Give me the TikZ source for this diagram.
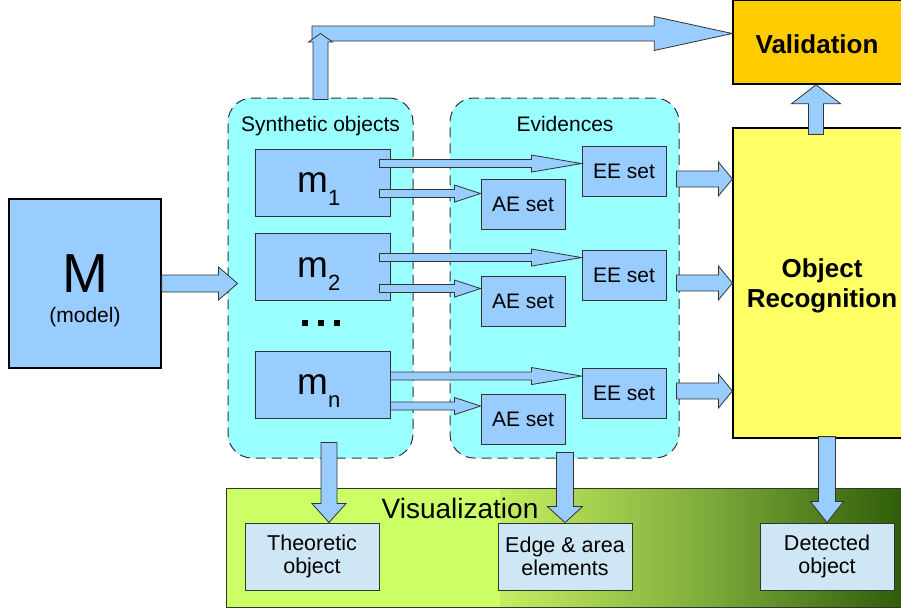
\documentclass[tikz,border=0pt]{standalone}
\usepackage{fontspec}
\setmainfont{Liberation Sans}
\usetikzlibrary{calc}

\definecolor{boxblue}{HTML}{99CCFF}
\definecolor{regioncyan}{HTML}{99FFFF}
\definecolor{valorange}{HTML}{FFCC00}
\definecolor{recyellow}{HTML}{FFFF66}
\definecolor{vislight}{HTML}{CCFF66}
\definecolor{visstart}{HTML}{C4EE60}
\definecolor{vismid}{HTML}{80AE3C}
\definecolor{visdark}{HTML}{2F5C08}
\definecolor{paleblue}{HTML}{CFE6F5}
\definecolor{edgegray}{HTML}{333333}

\tikzset{
  region/.style={draw=edgegray, line width=1pt, dash pattern=on 10pt off 6pt,
    fill=regioncyan, rounded corners=24pt, inner sep=0pt},
  bluebox/.style={draw=edgegray, line width=0.9pt, fill=boxblue, inner sep=0pt},
  setbox/.style={bluebox, minimum width=84pt, minimum height=50pt,
    font=\fontsize{21}{24}\selectfont},
  mbox/.style={bluebox, minimum width=135pt, minimum height=67pt},
  outbox/.style={draw=edgegray, line width=0.9pt, fill=paleblue, minimum width=134pt,
    minimum height=67pt, align=center, inner sep=0pt, font=\fontsize{21.5}{23}\selectfont},
  blockarrow/.style={draw=edgegray, line width=0.8pt, fill=boxblue, line join=miter},
  plaintext/.style={inner sep=0pt, font=\fontsize{21}{24}\selectfont},
  boldtext/.style={inner sep=0pt, align=center, font=\bfseries\fontsize{26}{30}\selectfont},
}

% broad outlined arrow: from, to, shaft half width, head half width, head length
\newcommand\blockarrow[5]{%
  \coordinate (ba-base) at ($(#2)!#5!(#1)$);
  \draw[blockarrow] ($(#1)!#3!90:(#2)$) -- ($(ba-base)!#3!90:(#2)$)
    -- ($(ba-base)!#4!90:(#2)$) -- (#2) -- ($(ba-base)!#4!-90:(#2)$)
    -- ($(ba-base)!#3!-90:(#2)$) -- ($(#1)!#3!-90:(#2)$) -- cycle;}

% letter m with a lowered index
\newcommand\mletter[1]{{\fontsize{37}{37}\selectfont m}\raisebox{-13pt}{\fontsize{22}{22}\selectfont #1}}

\begin{document}
\begin{tikzpicture}[x=1pt,y=-1pt]
\clip (0,0) rectangle (901,608);
\fill[white] (0,0) rectangle (901,608);

% visualization band, light on the left and darkening to the right
\node[fill=vislight, minimum width=676pt, minimum height=118pt, inner sep=0pt] (vis) at (565,548) {};
\shade[left color=visstart, right color=vismid] (500,489) rectangle (700,607);
\shade[left color=vismid, right color=visdark] (700,489) rectangle (903,607);
\draw[edgegray, line width=0.9pt] (vis.north west) rectangle (vis.south east);
\node[anchor=base, inner sep=0pt, font=\fontsize{28}{30}\selectfont] (vistitle) at (460,518) {Visualization};

% dashed groups
\node[region, minimum width=185pt, minimum height=360pt] (syn) at (320.5,278) {};
\node[region, minimum width=229pt, minimum height=360pt] (ev) at (564.5,278) {};
\node[plaintext, anchor=base] (syntitle) at (320.5,131) {Synthetic objects};
\node[plaintext, anchor=base] (evtitle) at (565,131) {Evidences};

% model
\node[draw=black, line width=1.5pt, fill=boxblue, minimum width=152pt,
  minimum height=169pt, inner sep=0pt] (M) at (85,283.5) {};
\node[anchor=base, inner sep=0pt, font=\fontsize{55}{55}\selectfont] (Mletter) at (85,292) {M};
\node[plaintext, anchor=base] (Mmodel) at (85,322) {(model)};

% synthetic objects
\node[mbox] (m1) at (322.5,182.5) {};
\node[mbox] (m2) at (322.5,266.5) {};
\node[mbox] (mn) at (322.5,384.5) {};
\node[anchor=base west, inner sep=0pt] (m1lab) at ($(m1.center)+(-25.5,9.5)$) {\mletter{1}};
\node[anchor=base west, inner sep=0pt] (m2lab) at ($(m2.center)+(-25.5,10.5)$) {\mletter{2}};
\node[anchor=base west, inner sep=0pt] (mnlab) at ($(mn.center)+(-25.5,9.5)$) {\mletter{n}};
\foreach \x in {302.3,318.3,334.3} \fill[black] (\x,320) rectangle +(5.4,5.6);

% evidence sets
\node[setbox] (EE1) at (624,171) {EE set};
\node[setbox] (EE2) at (624,275) {EE set};
\node[setbox] (EE3) at (624,393) {EE set};
\node[setbox] (AE1) at (523,204) {AE set};
\node[setbox] (AE2) at (523,301) {AE set};
\node[setbox] (AE3) at (523,419.5) {AE set};

% recognition and validation
\node[draw=black, line width=1.2pt, fill=recyellow, minimum width=178pt,
  minimum height=310pt, inner sep=0pt] (OR) at (822,283) {};
\node[boldtext] (ORtext) at ($(OR.center)+(0,3)$) {Object\\Recognition};
\node[draw=black, line width=1.5pt, fill=valorange, minimum width=170pt,
  minimum height=84pt, inner sep=0pt] (Val) at (818,42) {};
\node[boldtext] (Valtext) at ($(Val.center)+(-1,2)$) {Validation};

% results
\node[outbox] (Theo) at (312,556.5) {Theoretic\\object};
\node[outbox] (Edge) at (565,556.5) {Edge \& area\\elements};
\node[outbox] (Det) at (827,556.5) {Detected\\object};

% model -> synthetic objects
\coordinate (aM0) at (M.east);
\coordinate (aM1) at ($(syn.west |- M.east)+(10,0)$);
\blockarrow{aM0}{aM1}{8.5pt}{16.5pt}{19pt}

% synthetic objects -> evidence sets
\coordinate (e1s) at ($(m1.north east)+(-11,15)$);
\coordinate (e1t) at (EE1.west |- e1s);
\blockarrow{e1s}{e1t}{4pt}{8.5pt}{50pt}
\coordinate (a1s) at ($(m1.north east)+(-11,45)$);
\coordinate (a1t) at (AE1.west |- a1s);
\blockarrow{a1s}{a1t}{4pt}{8.5pt}{26pt}
\coordinate (e2s) at ($(m2.north east)+(-11,25)$);
\coordinate (e2t) at (EE2.west |- e2s);
\blockarrow{e2s}{e2t}{4pt}{8.5pt}{50pt}
\coordinate (a2s) at ($(m2.north east)+(-11,56)$);
\coordinate (a2t) at (AE2.west |- a2s);
\blockarrow{a2s}{a2t}{4pt}{8.5pt}{26pt}
\coordinate (e3s) at ($(mn.north east)+(0,25.5)$);
\coordinate (e3t) at (EE3.west |- e3s);
\blockarrow{e3s}{e3t}{4pt}{8.5pt}{50pt}
\coordinate (a3s) at ($(mn.north east)+(0,55.5)$);
\coordinate (a3t) at (AE3.west |- a3s);
\blockarrow{a3s}{a3t}{4pt}{8.5pt}{26pt}

% evidence sets -> recognition
\coordinate (r1s) at ($(EE1.east)+(10,8)$);
\coordinate (r1t) at (OR.west |- r1s);
\blockarrow{r1s}{r1t}{8pt}{17pt}{14pt}
\coordinate (r2s) at ($(EE2.east)+(10,8)$);
\coordinate (r2t) at (OR.west |- r2s);
\blockarrow{r2s}{r2t}{8pt}{17pt}{14pt}
\coordinate (r3s) at ($(EE3.east)+(10,-2)$);
\coordinate (r3t) at (OR.west |- r3s);
\blockarrow{r3s}{r3t}{8pt}{17pt}{14pt}

% recognition -> validation
\coordinate (vs) at ($(OR.north)+(-6,7)$);
\coordinate (vt) at (vs |- Val.south);
\blockarrow{vs}{vt}{7.5pt}{24.5pt}{19pt}

% synthetic objects -> validation, over the top
\coordinate (tt) at ($(Val.west)+(0,-8.5)$);
\coordinate (tc) at (syn.north |- tt);
\coordinate (th) at ($(tc)+(-8.5,0)$);
\blockarrow{th}{tt}{7.5pt}{17pt}{78pt}
\coordinate (tu) at ($(syn.north)+(0,2)$);
\blockarrow{tu}{tc}{7.5pt}{12pt}{8.5pt}

% down into the visualization
\coordinate (d1s) at ($(syn.south)+(8.5,-16)$);
\coordinate (d1t) at (d1s |- Theo.north);
\blockarrow{d1s}{d1t}{8pt}{17pt}{19pt}
\coordinate (d2s) at ($(ev.south)+(0.5,-6)$);
\coordinate (d2t) at (d2s |- Edge.north);
\blockarrow{d2s}{d2t}{8.5pt}{17.5pt}{16pt}
\coordinate (d3s) at ($(OR.south)+(5,-2)$);
\coordinate (d3t) at (d3s |- Det.north);
\blockarrow{d3s}{d3t}{8.5pt}{16.5pt}{21pt}
\end{tikzpicture}
\end{document}
